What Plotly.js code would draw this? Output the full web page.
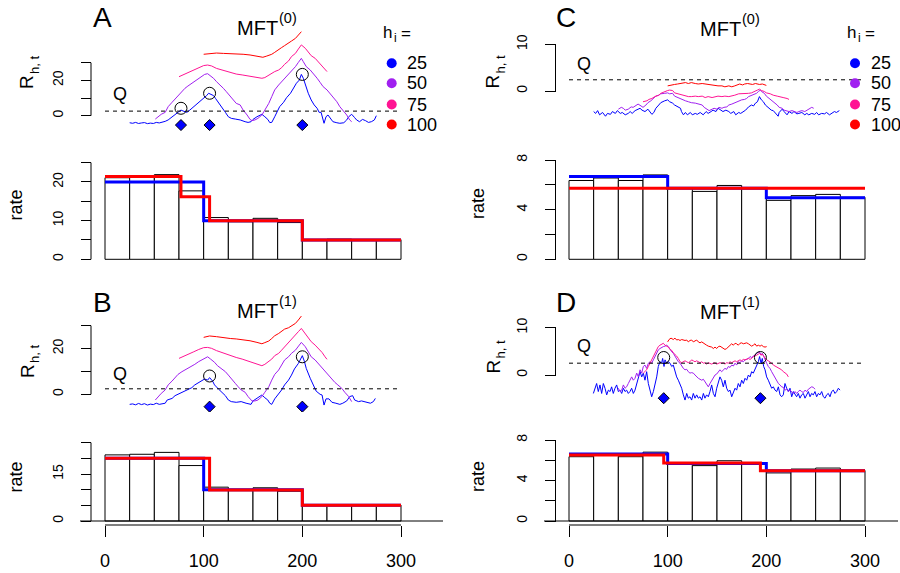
<!DOCTYPE html>
<html><head><meta charset="utf-8">
<script src="https://cdn.plot.ly/plotly-3.0.1.min.js"></script>
<style>html,body{margin:0;padding:0;background:#fff}#plot{width:900px;height:573px}</style>
</head><body><div id="plot"></div>
<script>
// ---------------- DATA ----------------
const hValues = [25, 50, 75, 100];
const hColors = ['#0000FF', '#A020F0', '#FF1493', '#FF0000'];
const timeTicks = [0, 100, 200, 300];
const binWidth = 25;
const histLeft = [21.1, 21.3, 21.9, 17.7, 10.8, 9.7, 10.6, 9.5, 5.0, 5.2, 5.0, 5.1];
const histRight = [6.35, 6.55, 6.35, 6.8, 5.7, 5.47, 5.95, 5.7, 4.75, 5.13, 5.23, 5.0];

// estimated step functions (breaks, levels)
const stepA_blue_t = [0, 100, 200, 300], stepA_blue_v = [20, 10, 5];
const stepA_red_t = [0, 77, 106, 200, 300], stepA_red_v = [21.4, 16.2, 10, 5];
const stepB_blue_t = [0, 100, 200, 300], stepB_blue_v = [20, 10, 5];
const stepB_red_t = [0, 106, 200, 300], stepB_red_v = [20, 9.9, 5];
const stepC_blue_t = [0, 100, 200, 300], stepC_blue_v = [6.67, 5.73, 4.95];
const stepC_red_t = [0, 300], stepC_red_v = [5.73];
const stepD_blue_t = [0, 100, 200, 300], stepD_blue_v = [6.61, 5.69, 4.97];
const stepD_red_t = [0, 96, 194, 300], stepD_red_v = [6.51, 5.72, 4.97];

// thresholds Q
const qA = 2.6, qB = 2.4, qC = 2.4, qD = 2.5;
// detected change points and the statistic there
const cpA_t = [77, 106, 200], cpA_v = [4.2, 12.7, 23.4];
const cpB_t = [106, 200], cpB_v = [8.0, 16.4];
const cpC_t = [], cpC_v = [];
const cpD_t = [96, 194], cpD_v = [3.7, 3.7];

// y-axis ticks (all ticks, labelled ticks)
const yTicksMftLeft = [0, 10, 20, 30], yLabelsMftLeft = [0, 20];
const yTicksHistA = [0, 5, 10, 15, 20, 25], yLabelsHistA = [0, 10, 20];
const yTicksHistB = [0, 5, 10, 15, 20, 25], yLabelsHistB = [0, 15];
const yTicksMftRight = [0, 10], yLabelsMftRight = [0, 10];
const yTicksHistRight = [0, 2, 4, 6, 8], yLabelsHistRight = [0, 4, 8];

// MFT statistics, panel A
const A25_t = [25,28,31,34,37,40,43,46,49,52,55,58,61,64,68,71,74,77,79,83,86,90,93,96,100,103,105,107,110,112,115,118,122,125,128,132,137,142,145,148,150,154,157,159,162,165,167,169,172,175,177,181,184,188,191,194,197,199,201,203,206,209,212,215,217,219,221,222,224,226,229,231,235,238,242,245,247,250,253,255,258,261,264,267,270,273,275];
const A25_v = [-4.0,-4.3,-3.8,-4.4,-4.1,-3.9,-4.5,-4.2,-4.4,-3.8,-4.1,-3.7,-3.2,-2.4,-0.6,0.4,1.9,3.2,2.7,1.9,3.2,5.1,6.4,7.6,9.5,11.4,12.7,12.1,11.4,9.8,7.6,5.1,1.9,-0.6,-1.5,-1.9,-2.4,-3.4,-3.8,-3.4,-2.1,-0.6,0.4,0.8,-0.6,-2.1,-3.9,-3.8,-0.6,2.7,5.1,7.6,10.2,12.7,15.5,18.4,20.2,23.4,21.2,17.4,12.7,8.9,6.1,4.2,1.9,1.9,-1.5,-4.3,-0.6,0.4,-1.9,-3.4,-4.0,-4.3,-4.0,-2.4,-0.6,0.8,-1.1,-2.4,-3.4,-2.1,-2.8,-3.8,-3.4,-2.4,0.0];
const A50_t = [51,54,57,61,64,68,71,74,78,81,84,88,91,95,98,101,104,106,110,113,117,120,123,127,130,133,137,140,144,147,149,152,155,159,162,166,169,172,176,179,182,186,189,193,196,199,201,204,208,211,215,218,221,225,228,231,235,238,242,245,248,250];
const A50_v = [-1.9,-0.6,0.8,1.9,5.1,7.6,9.5,10.8,13.6,15.5,16.8,18.4,19.7,21.2,22.1,23.4,23.8,23.1,21.2,19.3,17.4,15.5,13.6,10.8,8.9,7.0,6.1,3.2,0.4,-2.1,-2.8,-2.4,-1.5,0.4,3.2,7.0,10.8,14.6,17.4,19.3,21.2,23.1,25.0,27.8,30.2,32.5,30.6,27.8,25.9,24.0,21.2,18.9,16.5,14.6,12.7,10.8,7.9,5.1,2.7,0.4,-2.4,-3.4];
const A75_t = [75,79,84,90,95,100,104,108,113,118,123,128,133,139,144,149,154,159,162,166,169,172,176,179,182,186,189,193,196,199,203,206,209,213,216,220,223,225];
const A75_v = [22.1,23.1,24.4,25.9,27.2,28.4,28.7,28.2,26.8,25.9,25.0,24.4,23.6,23.1,22.7,22.1,21.6,21.2,21.6,23.1,24.0,25.0,25.9,27.2,29.1,31.0,33.5,35.3,37.8,40.1,38.2,36.3,34.0,32.5,30.6,28.7,26.5,25.0];
const A100_t = [100,106,113,120,127,133,140,147,152,157,160,164,169,172,176,179,182,186,189,193,196,199];
const A100_v = [34.8,35.3,35.5,35.3,35.2,35.0,34.8,34.4,34.0,33.5,33.1,33.8,34.8,35.9,37.2,38.6,39.7,41.0,42.3,43.8,45.7,47.6];

// panel B
const B25_t = [25,28,31,34,37,40,43,46,49,52,55,58,61,63,68,71,74,78,81,84,88,91,95,98,101,104,106,109,111,115,118,122,125,128,133,138,143,148,150,154,157,159,162,165,167,169,172,176,179,182,186,189,192,196,199,200,202,204,208,211,214,218,220,222,224,227,230,234,238,241,245,248,251,253,257,260,264,269,272,274];
const B25_v = [-4.4,-4.2,-4.6,-4.0,-4.5,-4.1,-4.7,-4.3,-4.5,-3.9,-4.4,-4.1,-3.9,-2.5,-1.8,-0.6,0.0,0.9,1.4,2.3,2.9,4.1,5.2,6.2,6.7,6.2,7.3,5.8,4.1,2.3,0.9,-0.6,-2.5,-3.2,-3.5,-3.2,-3.9,-4.4,-2.9,-1.8,-1.0,-0.3,-1.5,-2.5,-3.9,-4.4,-2.0,0.0,1.9,4.1,6.2,8.4,11.1,13.5,16.0,16.9,14.5,11.3,7.0,3.8,1.4,0.0,-0.3,-4.7,-2.0,-2.0,-3.5,-3.9,-4.4,-3.9,-2.9,-1.0,-0.6,-2.5,-3.2,-2.9,-3.5,-3.9,-3.2,-1.8];
const B50_t = [51,54,57,61,64,68,71,74,78,81,84,88,91,95,98,101,104,107,111,114,118,122,125,128,132,135,138,142,145,149,152,155,159,162,166,169,172,176,179,182,186,189,193,196,199,203,206,209,213,216,220,223,226,230,233,236,240,243,247,250];
const B50_v = [-2.5,-1.0,0.4,1.9,4.1,5.8,7.3,8.7,9.9,10.6,11.3,12.1,13.1,14.3,15.0,16.0,16.4,15.4,14.0,12.5,11.1,9.9,8.4,6.7,4.8,3.3,1.9,0.9,-1.0,-2.9,-2.9,-2.5,-1.0,0.9,3.3,6.2,8.7,10.6,12.8,15.0,16.4,17.9,19.3,20.8,22.7,20.8,18.6,16.4,15.0,13.5,11.6,10.2,8.4,6.7,5.2,4.1,2.6,0.9,-1.0,-3.2];
const B75_t = [75,79,84,90,95,100,104,108,113,118,123,128,133,139,144,149,154,159,162,166,169,172,176,179,182,186,189,193,196,199,203,206,209,213,216,220,223,225];
const B75_v = [15.7,16.4,17.5,18.6,19.6,20.4,20.5,20.1,19.1,18.3,17.5,16.9,16.1,15.4,14.7,14.0,13.5,12.5,13.1,14.3,15.4,16.9,17.9,19.3,20.8,22.7,24.4,26.2,27.4,28.8,26.6,24.7,23.0,21.5,20.1,18.3,16.4,15.3];
const B100_t = [100,106,113,120,127,133,140,147,154,159,162,166,169,172,176,179,182,186,189,193,196,199];
const B100_v = [24.9,25.5,25.2,24.7,24.4,24.2,23.9,23.4,22.7,22.1,22.6,23.3,24.4,25.6,26.6,27.6,28.5,29.1,30.0,31.0,32.5,34.2];

// panel C
const C25_t = [25,27,29,31,34,37,39,42,44,47,49,52,54,57,60,62,64,67,70,72,74,77,80,82,84,86,88,91,93,97,100,102,105,107,110,113,114,116,118,120,123,125,128,130,133,136,139,141,144,146,149,151,154,156,159,162,164,167,169,172,174,177,179,182,185,187,189,191,193,195,197,199,202,205,207,210,212,213,216,218,221,223,226,228,231,233,236,239,241,243,246,249,251,253,256,259,261,264,266,269,271,274];
const C25_v = [-4.4,-4.8,-4.2,-5.1,-4.6,-5.4,-4.8,-5.0,-4.4,-4.8,-4.2,-4.8,-4.6,-5.1,-4.8,-4.4,-4.8,-4.2,-3.9,-3.7,-4.1,-4.4,-3.9,-4.4,-5.0,-4.6,-3.7,-3.0,-2.5,-2.1,-1.9,-2.3,-2.6,-3.0,-3.4,-3.7,-4.4,-5.1,-4.6,-5.1,-4.6,-5.1,-4.8,-5.0,-4.6,-5.1,-4.4,-4.8,-4.4,-4.1,-4.4,-3.7,-4.1,-4.4,-4.1,-4.4,-4.8,-4.4,-5.1,-4.6,-4.8,-4.4,-4.1,-3.4,-3.0,-3.2,-2.6,-2.3,-1.2,-1.9,-2.3,-3.0,-3.5,-4.1,-4.2,-4.8,-5.4,-4.6,-3.9,-4.4,-5.1,-4.4,-4.8,-4.4,-4.9,-4.8,-4.6,-5.1,-4.8,-5.1,-4.8,-5.0,-4.6,-5.1,-4.8,-4.9,-4.6,-5.1,-4.8,-4.4,-4.6,-4.2];
const C50_t = [50,53,55,57,60,63,65,68,70,73,75,78,80,83,86,88,91,93,97,100,102,105,107,110,113,115,118,121,124,128,131,135,137,140,142,145,147,150,152,155,157,160,162,165,168,170,172,175,178,180,182,185,188,190,192,194,195,198,200,203,205,208,211,213,216,218,221,223,226,228,231,233,236,239,241,243,246,248];
const C50_v = [-3.9,-3.5,-3.7,-4.1,-3.9,-3.4,-3.5,-3.0,-2.8,-3.2,-3.5,-3.0,-2.5,-2.1,-1.6,-1.1,-0.9,-0.6,-0.5,-0.4,-0.6,-0.5,-1.1,-1.4,-1.6,-1.9,-2.1,-2.3,-2.5,-2.6,-2.8,-3.0,-3.5,-3.9,-4.2,-3.9,-3.7,-3.9,-3.5,-3.7,-3.5,-3.4,-3.0,-2.8,-2.5,-2.3,-2.1,-1.9,-1.8,-1.6,-1.2,-0.9,-0.6,-0.5,-0.1,0.2,-0.1,-0.5,-1.1,-1.6,-2.1,-2.5,-3.0,-3.5,-3.7,-4.1,-4.2,-4.4,-4.2,-4.4,-4.6,-4.4,-4.2,-4.4,-4.1,-3.9,-3.5,-3.7];
const C75_t = [75,79,81,84,87,91,93,97,100,102,105,107,110,114,118,121,124,128,131,135,138,141,145,148,151,155,158,162,165,168,172,175,178,182,185,189,191,193,195,198,200,204,207,211,214,217,221,223];
const C75_v = [-2.3,-2.1,-1.8,-1.6,-1.2,-0.9,-0.5,-0.1,0.1,0.2,0.1,-0.4,-0.6,-0.9,-1.1,-1.2,-1.2,-1.1,-1.2,-1.1,-1.4,-1.2,-1.4,-1.2,-1.1,-1.2,-1.1,-1.2,-1.1,-0.9,-0.6,-0.6,-0.5,-0.5,-0.4,-0.1,0.2,0.4,0.1,-0.1,-0.4,-0.6,-0.9,-1.1,-1.2,-1.4,-1.6,-1.8];
const C100_t = [100,103,107,110,114,118,121,124,128,131,135,138,141,145,148,151,155,158,162,165,168,171,173,176,178,181,183,186,189,191,193,196,199,200];
const C100_v = [1.1,1.3,1.4,1.5,1.6,1.8,1.6,1.8,1.6,1.5,1.6,1.5,1.4,1.3,1.2,1.1,1.1,0.9,1.1,0.9,1.1,1.3,1.5,1.3,1.5,1.6,1.5,1.4,1.6,1.5,1.4,1.5,1.3,1.2];

// panel D
const D25_t = [24.7,26.4,28.0,29.7,31.4,33.1,34.8,36.5,38.2,39.9,41.6,43.2,44.9,46.6,48.3,50.0,51.7,53.4,55.1,56.8,58.4,60.1,61.8,63.5,65.2,66.9,68.6,70.3,72.0,73.7,75.3,77.0,78.7,80.4,82.1,83.8,85.5,87.2,88.9,90.5,92.2,93.9,94.9,96.3,97.3,99.0,100.7,102.4,104.1,105.7,107.4,109.1,110.8,112.5,114.2,115.9,117.6,119.3,120.9,122.6,124.3,126.0,127.7,129.4,131.1,132.8,134.5,136.2,137.8,139.5,141.2,142.9,144.6,146.3,148.0,149.7,151.4,153.0,154.7,156.4,158.1,159.8,161.5,163.2,164.9,166.6,168.3,169.9,171.6,173.3,175.0,176.7,178.4,180.1,181.8,183.5,185.1,186.8,188.5,190.2,191.9,193.2,194.6,195.9,197.3,198.7,200.3,202.0,203.7,205.4,207.1,208.8,210.5,212.2,213.9,215.5,217.2,218.9,220.6,222.3,224.0,225.7,227.4,229.1,230.7,232.4,234.1,235.8,237.5,239.2,240.9,242.6,244.3,245.9,247.6,249.3,251.0,252.7,254.4,256.1,257.8,259.5,261.1,262.8,264.5,266.2,267.9,269.6,271.3,273.0,274.7];
const D25_v = [-3.9,-2.8,-1.8,-3.5,-2.1,-3.9,-1.8,-2.8,-4.2,-3.2,-3.5,-2.5,-3.9,-2.8,-2.1,-3.5,-3.2,-3.9,-2.8,-3.5,-3.2,-3.9,-3.5,-2.8,-3.9,-3.2,-1.8,-0.4,0.7,-0.4,0.4,-1.1,0.7,-1.8,-3.5,-4.6,-3.5,-2.1,-0.4,1.8,2.8,2.5,3.5,1.8,3.2,2.5,2.8,2.5,1.8,2.1,0.7,-0.4,-1.1,-1.8,-2.8,-4.2,-5.3,-3.9,-4.9,-4.6,-5.3,-3.9,-4.9,-4.2,-4.9,-4.6,-5.3,-3.9,-4.9,-4.2,-4.6,-3.5,-2.1,-3.9,-4.6,-2.8,-1.8,-0.4,-1.1,-2.5,-1.1,-2.8,-3.5,-3.2,-4.6,-3.5,-2.8,-3.2,-1.8,-2.5,-1.1,-1.8,-0.7,-1.1,0.0,-0.4,0.7,0.4,1.1,1.8,2.8,3.9,2.5,3.5,1.8,1.1,-0.4,-1.1,-2.1,-2.8,-2.5,-3.2,-3.5,-2.5,-4.2,-4.6,-4.2,-1.8,-2.8,-3.5,-2.8,-4.6,-3.5,-4.2,-4.6,-3.9,-4.9,-4.2,-3.9,-4.9,-4.2,-3.5,-4.6,-3.9,-4.2,-3.5,-4.6,-3.9,-4.2,-3.5,-4.6,-4.9,-4.2,-3.9,-4.6,-3.5,-3.2,-3.9,-3.5,-2.8,-3.2];
const D50_t = [50.0,51.7,53.4,55.1,56.8,58.4,60.1,61.8,63.5,65.2,66.9,68.6,70.3,72.0,73.7,75.3,77.0,78.7,80.4,82.1,83.8,85.5,87.2,88.9,90.5,92.2,93.9,95.6,97.3,99.0,100.7,102.4,104.1,105.7,107.4,109.1,110.8,112.5,114.2,115.9,117.6,119.3,120.9,122.6,124.3,126.0,127.7,129.4,131.1,132.8,134.5,136.2,137.8,139.5,141.2,142.9,144.6,146.3,148.0,149.7,151.4,153.0,154.7,156.4,158.1,159.8,161.5,163.2,164.9,166.6,168.3,169.9,171.6,173.3,175.0,176.7,178.4,180.1,181.8,183.5,185.1,186.8,188.5,190.2,191.9,193.2,194.6,195.9,197.3,198.7,200.3,202.0,203.7,205.4,207.1,208.8,210.5,212.2,213.9,215.5,217.2,218.9,220.6,222.3,224.0,225.7,227.4,229.1,230.7,232.4,234.1,235.8,237.5,239.2,240.9,242.6,244.3,245.9,247.6,249.3];
const D50_v = [-2.8,-3.5,-3.2,-2.1,-2.8,-2.5,-1.8,-1.1,-0.4,-1.1,-0.7,0.4,-0.4,1.1,0.4,1.8,2.1,1.4,2.5,2.8,2.5,3.2,3.9,4.6,5.3,5.6,5.9,6.0,6.1,6.3,6.0,5.4,4.9,4.6,3.9,3.5,2.8,2.5,1.8,1.4,1.1,1.2,0.7,0.4,0.5,0.4,0.0,-0.4,-0.7,-0.9,-1.1,-0.9,-1.4,-2.1,-2.5,-1.8,-1.1,-0.4,0.0,0.2,0.7,1.1,0.7,1.1,1.4,1.2,1.8,1.6,2.1,1.9,2.5,2.1,2.8,2.6,3.0,2.8,3.2,3.3,3.5,3.9,3.7,4.0,4.2,4.6,4.7,4.9,4.2,4.6,4.0,3.2,2.5,1.8,1.4,0.7,0.0,-0.4,-1.1,-1.8,-2.1,-2.5,-2.6,-3.2,-3.0,-3.5,-3.2,-3.5,-3.9,-3.5,-3.9,-3.5,-3.2,-3.5,-3.7,-3.2,-3.5,-3.0,-2.8,-2.5,-2.6,-3.0];
const D75_t = [75.3,77.0,78.7,80.4,82.1,83.8,85.5,87.2,88.9,90.5,92.2,93.9,95.6,97.3,99.0,100.7,102.4,104.1,105.7,107.4,109.1,110.8,112.5,114.2,115.9,117.6,119.3,120.9,122.6,124.3,126.0,127.7,129.4,131.1,132.8,134.5,136.2,137.8,139.5,141.2,142.9,144.6,146.3,148.0,149.7,151.4,153.0,154.7,156.4,158.1,159.8,161.5,163.2,164.9,166.6,168.3,169.9,171.6,173.3,175.0,176.7,178.4,180.1,181.8,183.5,185.1,186.8,188.5,190.2,191.9,193.2,194.6,195.9,197.3,198.7,200.3,202.0,203.7,205.4,207.1,208.8,210.5,212.2,213.9,215.5,217.2,218.9,220.6,222.3];
const D75_v = [0.4,0.7,1.1,1.8,2.5,3.2,3.9,4.6,5.3,6.0,6.3,6.6,6.7,6.3,6.1,5.9,5.4,5.2,4.7,4.4,4.0,3.5,2.8,2.6,2.8,3.0,2.8,2.6,2.8,3.2,3.0,2.8,3.0,2.8,2.6,2.8,2.5,2.6,2.3,2.6,2.5,2.3,2.5,2.6,2.3,2.5,2.6,2.5,2.6,2.3,2.6,2.5,2.8,2.6,2.8,3.0,2.8,3.0,3.2,3.0,3.3,3.2,3.3,3.5,3.3,3.5,3.9,4.0,4.2,4.4,4.6,4.2,4.4,4.0,3.5,3.2,3.0,2.8,2.5,2.1,1.9,1.6,1.4,1.2,1.1,0.7,0.5,0.2,-0.4];
const D100_t = [100.0,101.4,103.4,105.7,107.4,109.1,110.8,112.5,114.2,115.9,117.6,119.3,120.9,122.6,124.3,126.0,127.7,129.4,131.1,132.8,134.5,136.2,137.8,139.5,141.2,142.9,144.6,146.3,148.0,149.7,151.4,153.0,154.7,156.4,158.1,159.8,161.5,163.2,164.9,166.6,168.3,169.9,171.6,173.3,175.0,176.7,178.4,180.1,181.8,183.5,185.1,186.8,188.5,190.2,191.9,193.6,195.3,197.0,198.7,200.3];
const D100_v = [7.0,7.5,7.8,7.5,7.8,7.4,7.5,7.3,7.5,7.4,7.3,7.4,7.0,7.3,7.4,7.0,7.3,7.4,7.0,6.8,7.0,6.7,6.6,6.3,6.1,6.0,5.9,5.6,5.9,5.6,6.0,6.1,5.9,5.6,5.4,5.6,6.0,6.3,6.6,6.3,6.7,6.6,6.3,6.7,6.8,6.6,6.7,6.8,6.6,6.3,6.1,6.3,6.6,6.1,6.3,6.1,6.3,6.0,5.9,6.0];

// ---------------- LAYOUT HELPERS ----------------
const W = 900, H = 573, S = 296 / 300;
const FONT = 'Liberation Sans, Arial, Helvetica, sans-serif';
const PX = x => x / W, PY = y => 1 - y / H;
const sfx = k => (k === 1 ? '' : String(k));

// panel geometry: [k, xLeftPx, xRightPx, zeroTimePx, topPx, bottomPx, zeroValPy, pxPerUnit]
const geom = [
  [1, 80, 443, 105, 20, 132, 115.7, 1.765],
  [2, 80, 443, 105, 150, 262, 259.3, 3.866],
  [3, 80, 443, 105, 300, 412, 394.3, 2.287],
  [4, 80, 443, 105, 430, 525, 521.0, 3.133],
  [5, 544, 900, 569, 20, 132, 91.0, 4.67],
  [6, 544, 900, 569, 150, 262, 259.3, 12.41],
  [7, 544, 900, 569, 300, 412, 375.0, 4.73],
  [8, 544, 900, 569, 430, 525, 521.0, 10.125]
];
const yTicks = {
  1: [yTicksMftLeft, yLabelsMftLeft],
  2: [yTicksHistA, yLabelsHistA],
  3: [yTicksMftLeft, yLabelsMftLeft],
  4: [yTicksHistB, yLabelsHistB],
  5: [yTicksMftRight, yLabelsMftRight],
  6: [yTicksHistRight, yLabelsHistRight],
  7: [yTicksMftRight, yLabelsMftRight],
  8: [yTicksHistRight, yLabelsHistRight]
};

const layout = {
  width: W, height: H, margin: {l:0, r:0, t:0, b:0},
  paper_bgcolor: '#fff', plot_bgcolor: 'rgba(0,0,0,0)',
  showlegend: false, font: {family: FONT, color: '#000'},
  shapes: [], annotations: []
};

geom.forEach(([k, xl, xr, x0, top, bot, v0, sc]) => {
  const isBottom = (k === 4 || k === 8);
  const xa = {
    domain: [PX(xl), PX(xr)], range: [(xl - x0) / S, (xr - x0) / S],
    anchor: 'y' + sfx(k), showgrid: false, zeroline: false, showline: false,
    showticklabels: isBottom, ticks: isBottom ? 'outside' : ''
  };
  if (isBottom) Object.assign(xa, {
    tickmode: 'array', tickvals: timeTicks, ticktext: timeTicks.map(String),
    ticklen: 11, tickwidth: 1, tickcolor: '#000',
    tickfont: {family: FONT, size: 18, color: '#000'}, ticklabelstandoff: 8
  });
  layout['xaxis' + sfx(k)] = xa;

  const axisX = k <= 4 ? 91 : 555.5;
  const [allT, labT] = yTicks[k];
  const minorT = allT.filter(v => labT.indexOf(v) < 0);
  const ya = {
    domain: [PY(bot), PY(top)], range: [(v0 - bot) / sc, (v0 - top) / sc],
    anchor: 'free', position: PX(axisX), side: 'left',
    showgrid: false, zeroline: false, showline: false,
    ticks: 'outside', ticklen: 10.5, tickwidth: 1, tickcolor: '#000',
    tickmode: 'array', tickvals: labT, ticktext: labT.map(String), tickangle: -90,
    tickfont: {family: FONT, size: 14, color: '#000'}, ticklabelstandoff: 12
  };
  if (minorT.length) ya.minor = {tickmode: 'array', tickvals: minorT, ticks: 'outside',
    ticklen: 10.5, tickwidth: 1, tickcolor: '#000', showgrid: false};
  layout['yaxis' + sfx(k)] = ya;

  // R-style axis line from first to last tick
  layout.shapes.push({type:'line', xref:'paper', yref:'y' + sfx(k),
    x0: PX(axisX), x1: PX(axisX), y0: allT[0], y1: allT[allT.length - 1],
    line: {color:'#000', width:1}});
  if (isBottom) {
    layout.shapes.push({type:'line', xref:'x' + sfx(k), yref:'paper',
      x0: timeTicks[0], x1: timeTicks[timeTicks.length - 1], y0: PY(525), y1: PY(525),
      line: {color:'#000', width:1}});
    layout.shapes.push({type:'line', xref:'paper', yref:'y' + sfx(k),
      x0: PX(xl), x1: PX(k === 4 ? 443 : 898), y0: 0, y1: 0,
      line: {color:'#000', width:1}});
  }
});

const traces = [];
const ax = k => ({xaxis: 'x' + sfx(k), yaxis: 'y' + sfx(k)});

function curve(t, v, color, k) {
  traces.push(Object.assign({type:'scatter', mode:'lines', x:t, y:v,
    line:{color, width:1}, hoverinfo:'skip'}, ax(k)));
}
function bars(h, k) {
  traces.push(Object.assign({type:'bar', x: h.map((_, i) => i * binWidth + binWidth / 2), y: h,
    width: binWidth, marker:{color:'#fff', line:{color:'#000', width:1}}, hoverinfo:'skip'}, ax(k)));
}
function step(t, v, color, k) {
  traces.push(Object.assign({type:'scatter', mode:'lines', x:t, y:v.concat([v[v.length - 1]]),
    line:{shape:'hv', color, width:3}, hoverinfo:'skip'}, ax(k)));
}
function qline(q, k) {
  traces.push(Object.assign({type:'scatter', mode:'lines', x:[timeTicks[0], timeTicks[3]], y:[q, q],
    line:{color:'#000', width:1, dash:'4px,4px'}, hoverinfo:'skip'}, ax(k)));
}
function marks(ct, cv, dy, k) {
  if (!ct.length) return;
  traces.push(Object.assign({type:'scatter', mode:'markers', x:ct, y:cv,
    marker:{symbol:'circle-open', size:12, color:'#000', line:{width:1}}, hoverinfo:'skip'}, ax(k)));
  traces.push(Object.assign({type:'scatter', mode:'markers', x:ct, y:ct.map(() => dy),
    marker:{symbol:'diamond', size:8.5, color:'#0000FF', line:{color:'#000', width:1}}, hoverinfo:'skip'}, ax(k)));
}

// MFT panels
const mft = [
  [1, [A25_t, A50_t, A75_t, A100_t], [A25_v, A50_v, A75_v, A100_v], qA, cpA_t, cpA_v, -5.3],
  [3, [B25_t, B50_t, B75_t, B100_t], [B25_v, B50_v, B75_v, B100_v], qB, cpB_t, cpB_v, -5.4],
  [5, [C25_t, C50_t, C75_t, C100_t], [C25_v, C50_v, C75_v, C100_v], qC, cpC_t, cpC_v, -5.0],
  [7, [D25_t, D50_t, D75_t, D100_t], [D25_v, D50_v, D75_v, D100_v], qD, cpD_t, cpD_v, -4.9]
];
mft.forEach(([k, ts, vs, q, ct, cv, dy]) => {
  ts.forEach((t, i) => curve(t, vs[i], hColors[i], k));
  qline(q, k);
  marks(ct, cv, dy, k);
});

// histogram panels
bars(histLeft, 2);  step(stepA_blue_t, stepA_blue_v, '#0000FF', 2); step(stepA_red_t, stepA_red_v, '#FF0000', 2);
bars(histLeft, 4);  step(stepB_blue_t, stepB_blue_v, '#0000FF', 4); step(stepB_red_t, stepB_red_v, '#FF0000', 4);
bars(histRight, 6); step(stepC_blue_t, stepC_blue_v, '#0000FF', 6); step(stepC_red_t, stepC_red_v, '#FF0000', 6);
bars(histRight, 8); step(stepD_blue_t, stepD_blue_v, '#0000FF', 8); step(stepD_red_t, stepD_red_v, '#FF0000', 8);

// ---------------- TEXT ----------------
function ann(text, x, y, size, extra) {
  layout.annotations.push(Object.assign({text, x: PX(x), y: PY(y), xref:'paper', yref:'paper',
    showarrow:false, xanchor:'center', yanchor:'middle',
    font:{family:FONT, size, color:'#000'}}, extra || {}));
}
ann('A', 102, 17, 28); ann('B', 102, 303, 28);
ann('C', 566, 17, 28); ann('D', 566, 302, 28);

// titles "MFT" with a separate superscript
[[235, 28, '(0)'], [235, 311, '(1)'], [698, 29, '(0)'], [698, 312, '(1)']].forEach(([x, y, sup]) => {
  ann('MFT', x, y, 20, {xanchor:'left'});
  ann(sup, x + 42, y - 10, 14.5, {xanchor:'left'});
});
// y-axis labels R_{h,t} (rotated), main letter and subscript separately
[[27, 82], [27, 371], [492.5, 82], [492.5, 367]].forEach(([x, y]) => {
  ann('R', x, y, 19, {textangle:-90});
  ann('h, t', x + 7, y - 17, 13, {textangle:-90});
});
ann('rate', 15.5, 205, 18, {textangle:-90});
ann('rate', 15.5, 477, 18, {textangle:-90});
ann('rate', 478, 204, 18, {textangle:-90});
ann('rate', 478, 477, 18, {textangle:-90});
ann('Q', 120, 94, 18); ann('Q', 120, 374, 18);
ann('Q', 583.5, 64, 18); ann('Q', 583.5, 346, 18);

const legendRowsPy = [63.3, 83.3, 104.5, 124.5];
[[0, 391.7], [464, 855]].forEach(([off, dx]) => {
  ann('h', 387 + off, 32, 17);
  ann('i', 395 + off, 38, 12);
  ann('=', 406 + off, 33, 17);
  hValues.forEach((h, i) => {
    layout.shapes.push({type:'circle', xref:'paper', yref:'paper',
      x0: PX(dx - 5), x1: PX(dx + 5), y0: PY(legendRowsPy[i] + 5), y1: PY(legendRowsPy[i] - 5),
      fillcolor: hColors[i], line:{width:0}});
    ann(String(h), dx + 13.5, legendRowsPy[i], 18, {xanchor:'left'});
  });
});

Plotly.newPlot('plot', traces, layout, {staticPlot: true});
</script></body></html>
